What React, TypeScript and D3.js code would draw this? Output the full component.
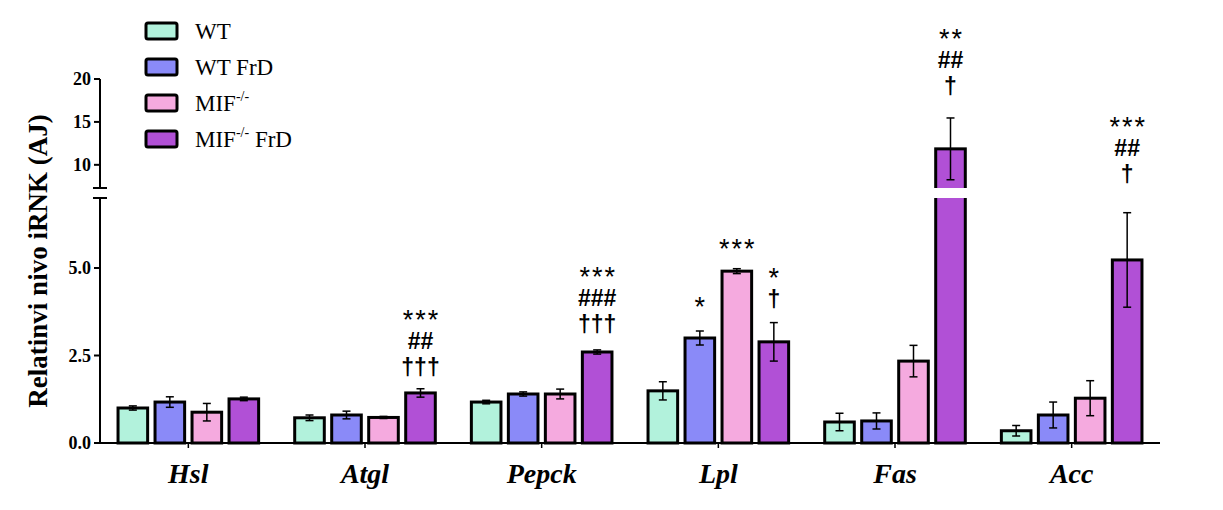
import React from 'react';
import * as d3 from 'd3';

// genes on the x axis and the four groups
const genes = ['Hsl', 'Atgl', 'Pepck', 'Lpl', 'Fas', 'Acc'];
const groups = ['WT', 'WT FrD', 'MIF', 'MIF FrD'];
const colors = ['#b2f2dc', '#8a8af8', '#f5aadf', '#b150d6'];

// mean and SEM, one entry per gene
const wt = [1.0, 0.72, 1.17, 1.49, 0.6, 0.35];
const wtSem = [0.06, 0.08, 0.05, 0.26, 0.25, 0.15];
const wtFrd = [1.17, 0.8, 1.4, 3.0, 0.63, 0.8];
const wtFrdSem = [0.15, 0.11, 0.06, 0.2, 0.23, 0.37];
const mif = [0.88, 0.73, 1.4, 4.91, 2.34, 1.28];
const mifSem = [0.25, 0.03, 0.14, 0.07, 0.45, 0.5];
const mifFrd = [1.26, 1.43, 2.6, 2.89, 11.86, 5.23];
const mifFrdSem = [0.05, 0.12, 0.06, 0.55, 3.6, 1.35];

const means = [wt, wtFrd, mif, mifFrd];
const sems = [wtSem, wtFrdSem, mifSem, mifFrdSem];

// significance marks above bars
const annGene = ['Atgl', 'Pepck', 'Lpl', 'Lpl', 'Lpl', 'Fas', 'Acc'];
const annGroup = [3, 3, 1, 2, 3, 3, 3];
const annRows = [
  ['***', '##', '†††'],
  ['***', '###', '†††'],
  ['*'],
  ['***'],
  ['*', '†'],
  ['**', '##', '†'],
  ['***', '##', '†'],
];

// y ticks of the two axis segments
const lowTicks = [0, 2.5, 5];
const highTicks = [10, 15, 20];

// layout: gap (px) between error bar top and lowest mark row
const annGap = [21, 25, 29, 25, 23, 31, 38];

const W = 1223;
const H = 510;
const x0 = 100;
const x1 = 1160;
const yBase = 443;
const lowTop = 198;
const highBottom = 188;
const highTop = 79;
const LOW_MAX = 7;
const HIGH_MIN = 7.3;

const serif = '"Liberation Serif", "Times New Roman", serif';
const sans = '"Liberation Sans", Arial, sans-serif';

export default function App() {
  const x = d3.scaleBand<string>().domain(genes).range([x0, x1]);
  const xi = d3.scaleBand<string>().domain(groups).range([-74, 74]).paddingInner(0.2).paddingOuter(0.1);
  const yLow = d3.scaleLinear().domain([0, LOW_MAX]).range([yBase, lowTop]);
  const yHigh = d3.scaleLinear().domain([HIGH_MIN, 20]).range([highBottom, highTop]);
  const y = (v: number) => (v <= LOW_MAX ? yLow(v) : yHigh(v));

  const center = (g: string) => (x(g) as number) + x.bandwidth() / 2;
  const bw = xi.bandwidth();

  const bars: any[] = [];
  genes.forEach((g, gi) => {
    groups.forEach((s, si) => {
      const v = means[si][gi];
      const e = sems[si][gi];
      bars.push({ g, s, si, v, e, bx: center(g) + (xi(s) as number) });
    });
  });

  return (
    <svg width={W} height={H} style={{ position: 'absolute', left: 0, top: 0, background: '#fff' }}>
      {/* bars */}
      {bars.map((b, i) => {
        const cx = b.bx + bw / 2;
        const top = y(b.v);
        const broken = b.v > LOW_MAX;
        return (
          <g key={i}>
            <rect x={b.bx} y={top} width={bw} height={yBase - top} fill={colors[b.si]} stroke="#000" strokeWidth={3} />
            {broken && <rect x={b.bx - 3} y={highBottom} width={bw + 6} height={lowTop - highBottom} fill="#fff" />}
            <line x1={cx} x2={cx} y1={y(b.v + b.e)} y2={y(b.v - b.e)} stroke="#000" strokeWidth={1.5} />
            <line x1={cx - 4} x2={cx + 4} y1={y(b.v + b.e)} y2={y(b.v + b.e)} stroke="#000" strokeWidth={1.5} />
            <line x1={cx - 4} x2={cx + 4} y1={y(b.v - b.e)} y2={y(b.v - b.e)} stroke="#000" strokeWidth={1.5} />
          </g>
        );
      })}

      {/* significance marks */}
      {annRows.map((rows, ai) => {
        const gi = genes.indexOf(annGene[ai]);
        const si = annGroup[ai];
        const v = means[si][gi];
        const e = sems[si][gi];
        const cx = center(annGene[ai]) + (xi(groups[si]) as number) + bw / 2;
        const errTop = y(v + e);
        const n = rows.length;
        return rows.map((r, ri) => {
          const cy = errTop - annGap[ai] - (n - 1 - ri) * 26.5;
          const star = r[0] === '*';
          return (
            <text
              key={ai + '-' + ri}
              x={star ? cx + 1 : cx}
              y={star ? cy + 14 : cy + 7.5}
              textAnchor="middle"
              fontFamily={sans}
              fontWeight={star ? 'normal' : 'bold'}
              fontSize={star ? 27 : 23}
              letterSpacing={star ? 2 : 0}
              fill="#000"
            >
              {r}
            </text>
          );
        });
      })}

      {/* x axis */}
      <line x1={x0} x2={x1} y1={yBase} y2={yBase} stroke="#000" strokeWidth={2} />
      {genes.map((g) => (
        <g key={g}>
          <line x1={center(g)} x2={center(g)} y1={yBase} y2={yBase + 5} stroke="#000" strokeWidth={1.5} />
          <text
            x={center(g)}
            y={483}
            textAnchor="middle"
            fontFamily={serif}
            fontStyle="italic"
            fontWeight="bold"
            fontSize={28}
          >
            {g}
          </text>
        </g>
      ))}

      {/* y axis, two segments */}
      <line x1={x0} x2={x0} y1={yBase} y2={lowTop} stroke="#000" strokeWidth={2} />
      <line x1={x0} x2={x0} y1={highBottom} y2={highTop} stroke="#000" strokeWidth={2} />
      <line x1={x0 - 7} x2={x0 + 7} y1={lowTop} y2={lowTop} stroke="#000" strokeWidth={2} />
      <line x1={x0 - 7} x2={x0 + 7} y1={highBottom} y2={highBottom} stroke="#000" strokeWidth={2} />
      {lowTicks.map((t) => (
        <g key={'l' + t}>
          <line x1={x0 - 6} x2={x0} y1={yLow(t)} y2={yLow(t)} stroke="#000" strokeWidth={2} />
          <text x={x0 - 9} y={yLow(t)} dy="0.35em" textAnchor="end" fontFamily={serif} fontWeight="bold" fontSize={18}>
            {d3.format('.1f')(t)}
          </text>
        </g>
      ))}
      {highTicks.map((t) => (
        <g key={'h' + t}>
          <line x1={x0 - 6} x2={x0} y1={yHigh(t)} y2={yHigh(t)} stroke="#000" strokeWidth={2} />
          <text x={x0 - 9} y={yHigh(t)} dy="0.35em" textAnchor="end" fontFamily={serif} fontWeight="bold" fontSize={18}>
            {t}
          </text>
        </g>
      ))}
      <text
        transform="translate(38,261) rotate(-90)"
        textAnchor="middle"
        dy="0.35em"
        fontFamily={serif}
        fontWeight="bold"
        fontSize={27}
      >
        Relatinvi nivo iRNK (AJ)
      </text>

      {/* legend */}
      {groups.map((s, i) => {
        const cy = 31 + i * 36;
        const mifName = s.startsWith('MIF');
        return (
          <g key={s}>
            <rect x={146} y={cy - 8} width={31} height={16} rx={2} fill={colors[i]} stroke="#000" strokeWidth={3} />
            <text x={195} y={cy + 8} fontFamily={serif} fontSize={23}>
              {mifName ? (
                <>
                  MIF
                  <tspan fontSize={14} dy={-10}>-/-</tspan>
                  {s.endsWith('FrD') ? <tspan dy={10}> FrD</tspan> : null}
                </>
              ) : (
                s
              )}
            </text>
          </g>
        );
      })}
    </svg>
  );
}
